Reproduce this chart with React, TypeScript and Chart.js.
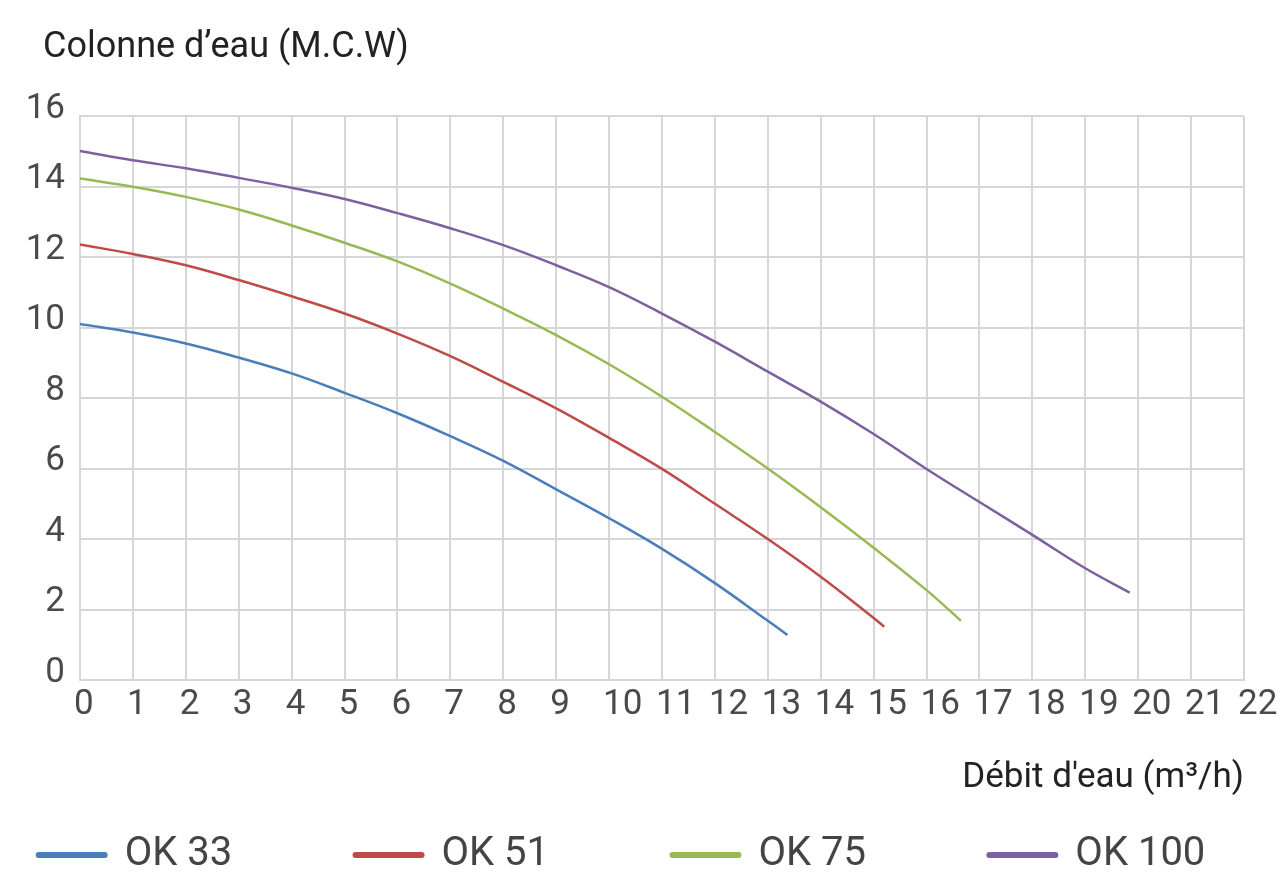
import React, { useEffect, useRef } from 'react';
import { Chart, registerables } from 'chart.js';

Chart.register(...registerables);

// ---- Data ----
const SERIES_NAMES = ['OK 33', 'OK 51', 'OK 75', 'OK 100'];
const SERIES_COLORS = ['#4A7EBB', '#BE4B48', '#98B954', '#7D60A0'];

const FLOW_OK33 = [0, 1, 2, 3, 4, 5, 6, 7, 8, 9, 10, 11, 12, 13, 13.37];
const HEAD_OK33 = [10.1, 9.86, 9.55, 9.15, 8.7, 8.15, 7.57, 6.92, 6.22, 5.41, 4.59, 3.72, 2.75, 1.68, 1.28];

const FLOW_OK51 = [0, 1, 2, 3, 4, 5, 6, 7, 8, 9, 10, 11, 12, 13, 14, 15, 15.2];
const HEAD_OK51 = [12.36, 12.09, 11.77, 11.35, 10.89, 10.4, 9.83, 9.19, 8.46, 7.71, 6.87, 5.99, 5.0, 4.0, 2.93, 1.76, 1.51];

const FLOW_OK75 = [0, 1, 2, 3, 4, 5, 6, 7, 8, 9, 10, 11, 12, 13, 14, 15, 16, 16.65];
const HEAD_OK75 = [14.23, 14.0, 13.71, 13.35, 12.9, 12.41, 11.88, 11.25, 10.54, 9.79, 8.96, 8.04, 7.04, 6.0, 4.9, 3.75, 2.55, 1.68];

const FLOW_OK100 = [0, 1, 2, 3, 4, 5, 6, 7, 8, 9, 10, 11, 12, 13, 14, 15, 16, 17, 18, 19, 19.84];
const HEAD_OK100 = [15.01, 14.75, 14.52, 14.25, 13.97, 13.65, 13.25, 12.82, 12.34, 11.77, 11.15, 10.4, 9.6, 8.75, 7.9, 6.98, 5.99, 5.05, 4.12, 3.17, 2.48];

const X_TICK_VALUES = [0, 1, 2, 3, 4, 5, 6, 7, 8, 9, 10, 11, 12, 13, 14, 15, 16, 17, 18, 19, 20, 21, 22];
const Y_TICK_VALUES = [0, 2, 4, 6, 8, 10, 12, 14, 16];

const Y_TITLE = 'Colonne d\u2019eau (M.C.W)';
const X_TITLE = 'D\u00e9bit d\'eau (m\u00b3/h)';

const FLOWS = [FLOW_OK33, FLOW_OK51, FLOW_OK75, FLOW_OK100];
const HEADS = [HEAD_OK33, HEAD_OK51, HEAD_OK75, HEAD_OK100];

const FONT = 'Roboto';
const GRID = '#D6D6D6';

const shiftTitle = {
  id: 'shiftTitle',
  afterLayout(chart: any) {
    const t = chart.titleBlock;
    if (t) t.left += 43;
  },
};

export default function App() {
  const ref = useRef<HTMLCanvasElement | null>(null);

  useEffect(() => {
    if (!ref.current) return;
    const datasets = SERIES_NAMES.map((name, i) => ({
      label: name,
      data: FLOWS[i].map((x, j) => ({ x, y: HEADS[i][j] })),
      borderColor: SERIES_COLORS[i],
      backgroundColor: SERIES_COLORS[i],
      borderWidth: 2.5,
      pointRadius: 0,
      pointHoverRadius: 0,
      fill: false,
      tension: 0.4,
    }));

    const chart = new Chart(ref.current, {
      type: 'line',
      data: { datasets },
      plugins: [shiftTitle],
      options: {
        animation: false,
        responsive: false,
        events: [],
        layout: { padding: { left: 0, right: 44, top: 0, bottom: 1 } },
        scales: {
          x: {
            type: 'linear',
            min: 0,
            max: 22,
            afterBuildTicks: (scale: any) => {
              scale.ticks = X_TICK_VALUES.map((v) => ({ value: v }));
            },
            grid: { color: GRID, lineWidth: 2, drawTicks: false },
            border: { color: GRID, width: 2 },
            ticks: {
              color: '#4a4a4a',
              font: { family: FONT, size: 35 },
              padding: 4,
              align: 'start',
              labelOffset: -6,
              maxRotation: 0,
              autoSkip: false,
            },
            title: {
              display: true,
              text: X_TITLE,
              align: 'end',
              color: '#222222',
              font: { family: FONT, size: 35 },
              padding: { top: 27, bottom: 35 },
            },
          },
          y: {
            type: 'linear',
            min: 0,
            max: 16,
            afterBuildTicks: (scale: any) => {
              scale.ticks = Y_TICK_VALUES.map((v) => ({ value: v }));
            },
            afterFit: (scale: any) => {
              scale.width = 80;
            },
            grid: { color: GRID, lineWidth: 2, drawTicks: false },
            border: { color: GRID, width: 2 },
            ticks: {
              color: '#4a4a4a',
              font: { family: FONT, size: 35 },
              padding: 15,
              labelOffset: -7,
            },
          },
        },
        plugins: {
          title: {
            display: true,
            text: Y_TITLE,
            align: 'start',
            color: '#222222',
            font: { family: FONT, size: 36, weight: 'normal' },
            padding: { top: 26, bottom: 47 },
          },
          legend: {
            display: true,
            position: 'bottom',
            labels: {
              usePointStyle: true,
              pointStyleWidth: 66,
              padding: 1,
              color: '#444444',
              font: { family: FONT, size: 40 },
              generateLabels: (c: any) =>
                c.data.datasets.map((ds: any, i: number) => ({
                  text: i < SERIES_NAMES.length - 1 ? SERIES_NAMES[i] + '\u2003\u2003\u2003' : SERIES_NAMES[i],
                  fillStyle: ds.borderColor,
                  strokeStyle: ds.borderColor,
                  lineWidth: 6,
                  lineCap: 'round',
                  pointStyle: 'line',
                  hidden: false,
                  datasetIndex: i,
                  fontColor: '#444444',
                })),
            },
          },
          tooltip: { enabled: false },
        },
      },
    } as any);

    return () => chart.destroy();
  }, []);

  return (
    <div style={{ position: 'fixed', left: 0, top: 0, width: 1288, height: 886, background: '#ffffff' }}>
      <canvas ref={ref} width={1288} height={886} />
    </div>
  );
}
